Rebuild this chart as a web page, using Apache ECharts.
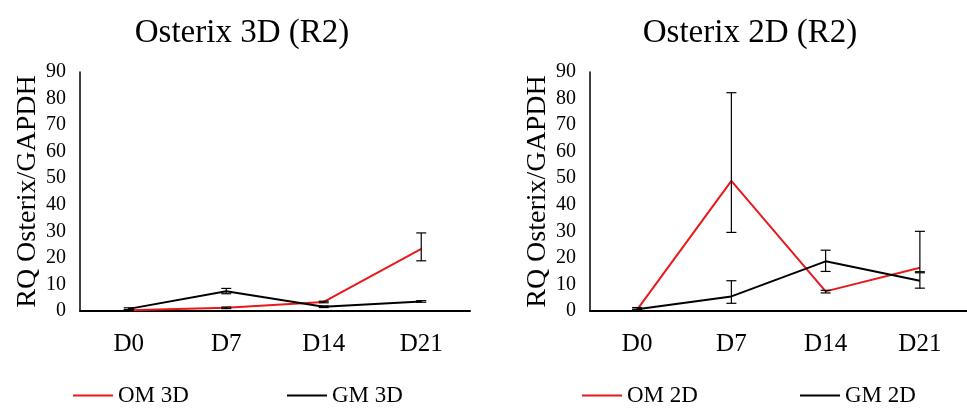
<!DOCTYPE html>
<html>
<head>
<meta charset="utf-8">
<script src="https://cdn.jsdelivr.net/npm/echarts@6.0.0/dist/echarts.min.js"></script>
<style>
  html, body { margin: 0; padding: 0; background: #fff; }
  #charts { width: 967px; height: 409px; }
</style>
</head>
<body>
<div id="charts"></div>
<script>
// days on the x axis
var days = ['D0', 'D7', 'D14', 'D21'];
var yTicks = [0, 10, 20, 30, 40, 50, 60, 70, 80, 90];

// 3D culture
var om3d = [0.3, 1.2, 3.4, 23.4];
var gm3d = [0.8, 7.4, 1.6, 3.6];
var om3dErr = [[0.1, 0.5], [0.9, 1.5], [3.1, 3.7], [18.9, 29.4]];
var gm3dErr = [[0.5, 1.2], [6.5, 8.5], [1.3, 1.9], [3.3, 3.9]];

// 2D culture
var om2d = [0.5, 49.0, 7.4, 16.3];
var gm2d = [0.7, 5.5, 18.7, 11.4];
var om2dErr = [[0.3, 0.7], [29.6, 82.2], [6.8, 7.8], [14.8, 30.0]];
var gm2dErr = [[0.3, 1.3], [2.9, 11.4], [14.9, 22.9], [8.6, 14.4]];

var serif = 'Liberation Serif';

function errData(arr) {
    return arr.map(function (d, i) { return [i, d[0], d[1]]; });
}

function renderErr(params, api) {
    var x = api.value(0);
    var lo = api.coord([x, api.value(1)]);
    var hi = api.coord([x, api.value(2)]);
    var w = 5;
    var st = { stroke: '#000', lineWidth: 1.2 };
    return {
        type: 'group',
        children: [
            { type: 'line', shape: { x1: hi[0], y1: hi[1], x2: lo[0], y2: lo[1] }, style: st },
            { type: 'line', shape: { x1: hi[0] - w, y1: hi[1], x2: hi[0] + w, y2: hi[1] }, style: st },
            { type: 'line', shape: { x1: lo[0] - w, y1: lo[1], x2: lo[0] + w, y2: lo[1] }, style: st }
        ]
    };
}

function xAx(idx) {
    return {
        type: 'category', gridIndex: idx, data: days, boundaryGap: true,
        axisLine: { lineStyle: { color: '#000', width: 2 } },
        axisTick: { show: false },
        axisLabel: { color: '#000', fontFamily: serif, fontSize: 25, margin: 21 }
    };
}

function yAx(idx) {
    return {
        type: 'value', gridIndex: idx, min: 0, max: 90, interval: 10,
        name: 'RQ Osterix/GAPDH', nameLocation: 'middle', nameRotate: 90, nameGap: 32,
        nameTextStyle: { color: '#000', fontFamily: serif, fontSize: 28 },
        axisLine: { show: true, lineStyle: { color: '#000', width: 1.5 } },
        axisTick: { show: false },
        splitLine: { show: false },
        axisLabel: { color: '#000', fontFamily: serif, fontSize: 20, margin: 14 }
    };
}

function lineSeries(name, data, idx, color) {
    return {
        name: name, type: 'line', xAxisIndex: idx, yAxisIndex: idx, data: data,
        symbol: 'none', lineStyle: { color: color, width: 2 }, itemStyle: { color: color },
        z: 3
    };
}

function errSeries(arr, idx) {
    return {
        type: 'custom', xAxisIndex: idx, yAxisIndex: idx, data: errData(arr),
        renderItem: renderErr, encode: { x: 0, y: [1, 2] }, z: 4, silent: true
    };
}

function legendItem(name, left) {
    return {
        data: [name], left: left, top: 379, icon: 'rect', itemWidth: 40, itemHeight: 2,
        textStyle: { color: '#000', fontFamily: serif, fontSize: 23 }, selectedMode: false
    };
}

var myChart = echarts.init(document.getElementById('charts'));
var option = {
    animation: false,
    backgroundColor: '#fff',
    title: [
        { text: 'Osterix 3D (R2)', left: 237, top: 12, textAlign: 'center',
          textStyle: { color: '#000', fontFamily: serif, fontSize: 33, fontWeight: 'normal' } },
        { text: 'Osterix 2D (R2)', left: 745, top: 12, textAlign: 'center',
          textStyle: { color: '#000', fontFamily: serif, fontSize: 33, fontWeight: 'normal' } }
    ],
    legend: [
        legendItem('OM 3D', 68),
        legendItem('GM 3D', 282),
        legendItem('OM 2D', 577),
        legendItem('GM 2D', 795)
    ],
    grid: [
        { left: 80, top: 72, width: 390, height: 239 },
        { left: 590, top: 72, width: 392, height: 239 }
    ],
    xAxis: [xAx(0), xAx(1)],
    yAxis: [yAx(0), yAx(1)],
    series: [
        lineSeries('OM 3D', om3d, 0, '#e8181c'),
        lineSeries('GM 3D', gm3d, 0, '#000'),
        errSeries(om3dErr, 0),
        errSeries(gm3dErr, 0),
        lineSeries('OM 2D', om2d, 1, '#e8181c'),
        lineSeries('GM 2D', gm2d, 1, '#000'),
        errSeries(om2dErr, 1),
        errSeries(gm2dErr, 1)
    ]
};
myChart.setOption(option);
</script>
</body>
</html>
